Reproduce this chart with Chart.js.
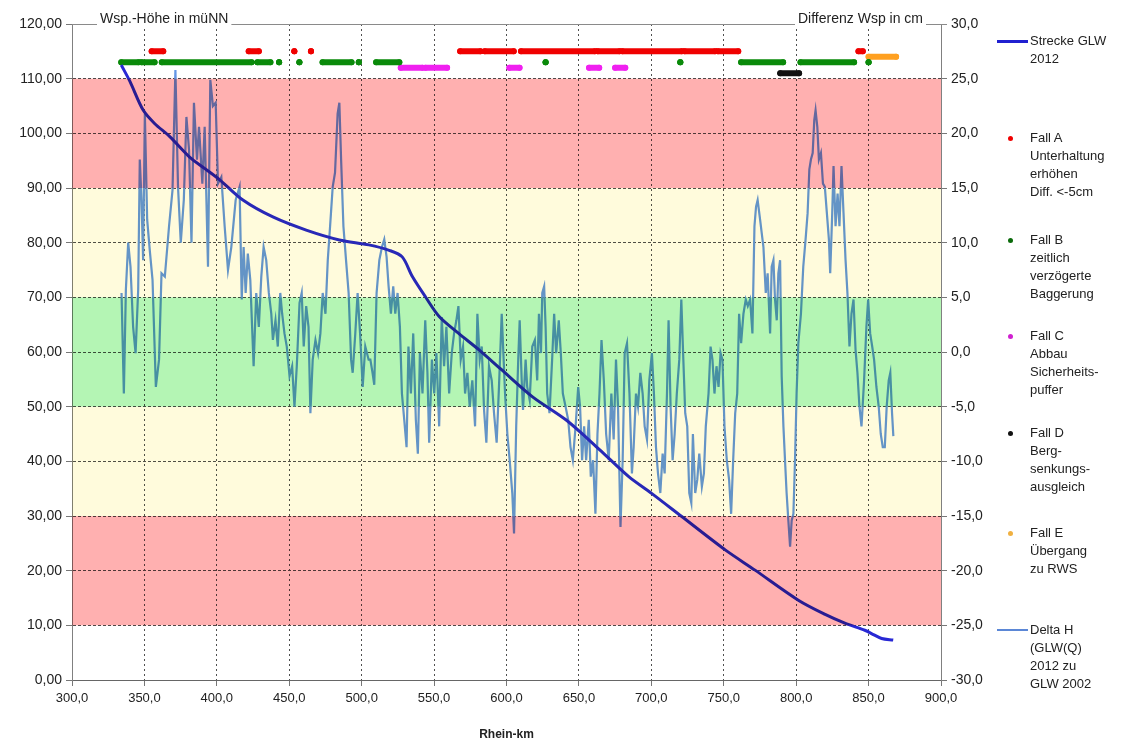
<!DOCTYPE html>
<html lang="de">
<head>
<meta charset="utf-8">
<title>Strecke GLW 2012 / Delta H</title>
<script src="https://cdn.jsdelivr.net/npm/chart.js@4.4.1/dist/chart.umd.min.js"></script>
<style>
  html, body { margin: 0; padding: 0; background: #fff; }
  #wrap { position: relative; width: 1126px; height: 742px; font-family: "Liberation Sans", Arial, sans-serif; color: #222; }
  #chart { position: absolute; left: 0; top: 0; }
  .leg { position: absolute; left: 1030px; font-size: 13px; line-height: 18px; white-space: nowrap; }
  .mk-line { position: absolute; left: 997px; width: 31px; }
  .mk-dot { position: absolute; left: 1008px; width: 5px; height: 5px; border-radius: 50%; }
</style>
</head>
<body>
<div id="wrap">
  <canvas id="chart" width="1126" height="742"></canvas>
  <div id="legend"></div>
</div>
<script>
// Strecke GLW 2012: Wasserspiegelhöhe in müNN (linke Achse)
const streckeKm  = [334, 340, 349, 357, 367.5, 381, 392, 402, 418, 438.7, 461.7, 484.6, 505, 519, 528, 535, 544, 553.5, 567, 581, 596, 618, 641, 664, 684.4, 700.4, 721, 751, 771.6, 801.5, 820, 833.6, 847.4, 852, 859, 867];
const streckeWsp = [112.5, 109.5, 104.3, 101.8, 99.4, 95.7, 93.5, 91.5, 87.8, 84.7, 82.3, 80.5, 79.6, 78.6, 77.4, 73.8, 70.1, 66.5, 63.4, 60.4, 56.9, 51.8, 47.6, 42.2, 37.2, 34.1, 29.9, 23.8, 20.1, 14.6, 12.0, 10.4, 9.1, 8.5, 7.6, 7.3];

// Delta H (GLW(Q) 2012 zu GLW 2002) in cm (rechte Achse)
const deltaKm = [
  334.2, 335.8, 337.2, 338.8, 340.4, 342.2, 343.9, 345.7, 346.8, 348.0, 349.1, 350.3, 351.9, 353.7, 355.6, 357.9, 360.1, 361.8, 364.1, 367.0,
  369.4, 371.4, 373.2, 375.1, 377.2, 379.0, 380.8, 382.5, 384.2, 386.3, 387.7, 390.0, 391.6, 393.9, 395.5, 397.3, 399.2, 400.8, 403.1, 405.4,
  407.7, 410.0, 413.0, 415.7, 417.2, 418.5, 419.9, 421.4, 423.1, 425.4, 427.2, 429.0, 430.7, 432.3, 434.1, 435.9, 437.6, 438.7, 440.5, 442.1,
  443.8, 445.1, 446.7, 448.3, 450.2, 452.0, 453.6, 455.2, 457.1, 458.6, 460.0, 461.7, 463.3, 464.6, 466.2, 468.1, 469.9, 471.5, 473.1, 475.0,
  476.6, 478.2, 480.0, 481.6, 483.4, 484.6, 485.8, 487.4, 489.2, 491.0, 492.7, 493.8, 495.6, 497.2, 498.9, 500.7, 502.5, 504.8, 506.0, 507.5,
  508.7, 510.3, 512.2, 514.0, 515.6, 517.2, 518.6, 520.2, 521.8, 523.2, 524.8, 526.4, 527.8, 529.4, 531.0, 532.3, 534.0, 535.6, 537.4, 538.8,
  540.2, 542.0, 543.9, 545.4, 546.6, 548.5, 550.1, 551.6, 553.5, 555.3, 556.9, 558.5, 560.4, 562.2, 563.8, 565.4, 566.8, 568.4, 570.0, 571.4,
  573.0, 574.6, 576.4, 578.3, 579.9, 581.5, 582.9, 584.5, 586.1, 587.9, 589.8, 591.4, 593.2, 594.8, 596.7, 599.0, 600.6, 602.2, 604.0, 605.2,
  606.7, 608.1, 609.1, 610.5, 611.4, 613.2, 614.3, 616.0, 617.8, 619.6, 621.2, 622.4, 623.8, 624.7, 626.0, 627.0, 628.1, 629.7, 631.5, 632.9,
  634.3, 636.1, 637.5, 638.9, 640.8, 642.6, 644.2, 645.8, 647.7, 649.5, 650.8, 652.2, 653.6, 655.0, 656.8, 658.2, 659.8, 661.4, 662.8, 664.2,
  665.6, 667.2, 668.8, 670.6, 672.4, 674.0, 675.6, 677.0, 678.7, 680.2, 681.6, 683.2, 684.9, 686.6, 687.8, 689.4, 690.8, 692.4, 694.0, 695.4,
  697.0, 698.6, 700.4, 701.8, 703.2, 704.6, 706.2, 707.8, 709.2, 710.8, 711.9, 713.3, 714.7, 716.1, 717.6, 719.3, 720.7, 722.1, 723.4, 724.8,
  726.2, 727.6, 728.7, 730.3, 731.7, 733.1, 734.9, 736.3, 737.6, 739.5, 740.9, 742.2, 743.6, 745.0, 746.4, 747.8, 749.1, 750.5, 752.1, 753.7,
  755.1, 756.5, 757.9, 759.3, 760.6, 762.0, 763.6, 765.2, 766.6, 768.2, 769.8, 771.2, 772.3, 773.4, 775.1, 776.2, 777.4, 779.0, 780.3, 782.0,
  783.1, 784.3, 785.4, 786.6, 787.7, 788.9, 790.0, 791.2, 792.3, 793.4, 794.6, 795.8, 796.9, 798.1, 799.2, 800.3, 801.5, 803.3, 804.9, 806.5,
  807.9, 809.1, 810.2, 811.4, 812.5, 813.4, 814.6, 815.7, 817.1, 818.5, 819.8, 821.2, 822.6, 823.5, 824.9, 825.8, 827.2, 828.6, 829.9, 831.3,
  832.7, 834.1, 835.4, 836.8, 838.2, 839.6, 841.0, 842.3, 843.7, 845.1, 846.9, 848.5, 849.7, 851.1, 852.5, 853.8, 855.4, 857.0, 858.4, 859.8,
  861.2, 862.5, 863.9, 865.0, 866.2, 867.1
];
const deltaCm = [
  5.4, -3.8, 5.7, 10.0, 7.8, 2.3, -0.1, 5.7, 17.6, 13.9, 8.4, 21.8, 12.1, 9.3, 6.6, -3.2, -0.7, 7.2, 6.9, 11.5,
  14.8, 25.8, 15.1, 10.0, 13.9, 21.5, 18.5, 10.0, 22.8, 17.6, 20.6, 15.4, 20.6, 7.8, 24.9, 22.5, 22.8, 15.4, 16.0, 11.5,
  7.5, 9.6, 13.9, 15.1, 4.8, 9.6, 5.4, 9.0, 6.6, -1.3, 5.4, 2.3, 6.9, 9.6, 8.4, 5.4, 3.5, 1.1, 2.9, 0.5,
  5.4, 3.5, 1.7, 0.5, -2.2, -1.3, -5.0, -1.3, 4.5, 5.4, 0.5, 4.2, 2.3, -5.6, -0.7, 1.1, -0.1, 1.7, 5.4, 3.5,
  8.4, 11.5, 15.1, 16.4, 21.8, 22.8, 17.6, 11.5, 8.4, 5.4, -0.7, -1.9, 1.7, 5.4, 1.7, -3.2, 0.5, -0.7, -0.7, -1.9,
  -3.0, 5.4, 8.4, 9.6, 10.3, 8.7, 6.0, 3.5, 6.0, 3.5, 5.4, 2.3, -3.8, -6.2, -8.7, 0.5, -3.8, 1.7, -6.2, -9.3,
  -0.1, -3.8, 2.9, -1.9, -8.3, -0.7, -3.8, -0.1, -6.8, 3.2, -1.3, 2.3, -3.8, -0.1, 1.7, 2.9, 4.2, -0.7, 0.5, -3.8,
  -1.9, -5.0, -2.6, -6.8, 3.5, -0.7, 0.5, -5.3, -8.3, -1.3, -2.6, -5.6, -8.3, -3.2, 3.5, -3.8, -7.5, -9.9, -12.9, -16.6,
  -6.8, -0.7, 2.9, -2.6, -5.3, -0.7, -3.2, -4.4, 0.5, 1.1, -2.6, 3.5, -0.1, 5.4, 6.0, 2.3, -3.8, -5.6, -0.7, 3.5,
  -0.1, 2.9, -0.1, -3.8, -5.0, -6.2, -8.7, -9.9, -6.8, -3.2, -5.0, -9.9, -6.8, -9.9, -6.2, -11.4, -9.9, -14.8, -7.5, -3.8,
  1.1, -2.6, -7.5, -9.9, -3.8, -8.0, -0.7, -5.0, -16.0, -9.9, -0.1, 0.8, -3.8, -11.1, -8.7, -3.8, -5.0, -1.9, -3.8, -6.8,
  -8.0, -2.6, -0.1, -3.8, -8.7, -11.1, -12.9, -9.3, -11.1, -3.8, 2.9, -5.0, -9.9, -7.5, -3.8, -0.7, 4.8, -0.7, -5.6, -6.8,
  -12.9, -13.8, -7.5, -12.9, -11.7, -9.3, -12.3, -11.1, -6.8, -3.8, 0.5, -0.7, -3.8, -1.3, -3.2, -0.1, -0.7, -6.8, -9.9, -11.7,
  -14.8, -9.9, -5.6, -3.8, 3.5, 0.8, 3.5, 4.8, 4.2, 4.8, 1.7, 11.5, 13.3, 13.9, 12.1, 10.9, 9.6, 5.4, 7.2, 1.7,
  7.8, 8.4, 4.8, 2.9, 7.2, 8.4, -2.2, -6.8, -9.9, -12.9, -15.4, -17.8, -15.4, -14.8, -9.9, -3.8, 0.8, 3.5, 7.8, 10.3,
  12.7, 16.7, 17.6, 18.2, 21.2, 22.1, 20.6, 17.6, 18.2, 15.4, 15.1, 12.7, 10.3, 7.2, 12.7, 17.0, 11.5, 14.5, 11.5, 17.0,
  12.7, 8.4, 5.4, 0.5, 3.5, 4.8, 0.2, -1.9, -5.0, -6.8, -2.6, 2.3, 4.8, 1.7, 0.5, -0.7, -3.2, -5.0, -7.5, -8.7,
  -8.7, -5.0, -2.6, -1.9, -5.6, -7.7
];

// Fälle A–E: Abschnitte [von km, bis km]
const fallA = [[355, 363], [422, 429], [453.5, 453.5], [465, 465], [568, 582], [585, 605], [610, 661], [663, 678], [680, 721], [723, 744], [746, 760], [843, 846]];
const fallB = [[334, 346], [348, 357], [362, 424], [428, 437], [443, 443], [457, 457], [473, 493], [498, 498], [510, 526], [627, 627], [720, 720], [762, 791], [803, 840], [850, 850]];
const fallC = [[527, 542], [544, 559], [602, 609], [657, 664], [675, 682]];
const fallD = [[789, 802]];
const fallE = [[850, 869]];
// Höhe der Fall-Markierungen auf der linken Achse (A, B, C, D, E)
const fallLevels = [115, 113, 112, 111, 114];

// Bewertungsbereiche der Differenz in cm (von unten nach oben)
const bandEdgesCm = [-25, -15, -5, 5, 15, 25];
const bandColors = ['#ffb0b0', '#fffbdc', '#b4f5b4', '#fffbdc', '#ffb0b0'];

const FONT = '"Liberation Sans", Arial, sans-serif';
const fmt = (v, d) => v.toFixed(d).replace('.', ',');

const toPoints = (xs, ys) => xs.map((x, i) => ({ x, y: ys[i] }));
const segPoints = (segs, level) => segs.flatMap(([a, b]) => [{ x: a, y: level }, { x: b, y: level }, { x: b, y: null }]);

const fallDs = (label, segs, level, color) => ({
  label, data: segPoints(segs, level), yAxisID: 'y',
  borderColor: color, backgroundColor: color, borderWidth: 6, borderCapStyle: 'round',
  pointRadius: 3, pointBorderWidth: 0, pointBackgroundColor: color, spanGaps: false, order: 0
});

// Farbbereiche multiplikativ über die Linien legen
const bandPlugin = {
  id: 'bands',
  afterDatasetsDraw(chart) {
    const { ctx, chartArea: a, scales: { y2 } } = chart;
    ctx.save();
    ctx.globalCompositeOperation = 'multiply';
    for (let i = 0; i < bandEdgesCm.length - 1; i++) {
      const top = y2.getPixelForValue(bandEdgesCm[i + 1]);
      const bot = y2.getPixelForValue(bandEdgesCm[i]);
      ctx.fillStyle = bandColors[i];
      ctx.fillRect(a.left, top, a.right - a.left, bot - top);
    }
    ctx.restore();
  }
};

// obere Rahmenlinie und Achsentitel
const framePlugin = {
  id: 'frame',
  afterDraw(chart) {
    const { ctx, chartArea: a } = chart;
    ctx.save();
    ctx.strokeStyle = '#8a8a8a';
    ctx.lineWidth = 1;
    ctx.beginPath();
    ctx.moveTo(a.left, a.top + 0.5);
    ctx.lineTo(a.right + 6, a.top + 0.5);
    ctx.stroke();

    ctx.font = '14px ' + FONT;
    ctx.textBaseline = 'middle';
    const left = 'Wsp.-Höhe in müNN';
    const lw = ctx.measureText(left).width;
    ctx.fillStyle = '#fff';
    ctx.fillRect(97, 12, lw + 6, 15);
    ctx.fillStyle = '#222';
    ctx.textAlign = 'left';
    ctx.fillText(left, 100, 19);

    const right = 'Differenz Wsp in cm';
    const rw = ctx.measureText(right).width;
    ctx.fillStyle = '#fff';
    ctx.fillRect(923 - rw - 3, 12, rw + 6, 15);
    ctx.fillStyle = '#222';
    ctx.textAlign = 'right';
    ctx.fillText(right, 923, 19);
    ctx.restore();
  }
};

new Chart(document.getElementById('chart'), {
  type: 'line',
  data: {
    datasets: [
      {
        label: 'Strecke GLW 2012', data: toPoints(streckeKm, streckeWsp), yAxisID: 'y',
        borderColor: '#2828d4', borderWidth: 3, pointRadius: 0, tension: 0.3, order: 0
      },
      fallDs('Fall A', fallA, fallLevels[0], '#f00000'),
      fallDs('Fall B', fallB, fallLevels[1], '#0a8a0a'),
      fallDs('Fall C', fallC, fallLevels[2], '#f020f0'),
      fallDs('Fall D', fallD, fallLevels[3], '#111111'),
      fallDs('Fall E', fallE, fallLevels[4], '#ffa020'),
      {
        label: 'Delta H', data: toPoints(deltaKm, deltaCm), yAxisID: 'y2',
        borderColor: '#6496e6', borderWidth: 2.2, pointRadius: 0, order: 2
      }
    ]
  },
  options: {
    responsive: false,
    animation: false,
    layout: { padding: { top: 24, right: 135, bottom: 0, left: 0 } },
    plugins: { legend: { display: false }, tooltip: { enabled: false } },
    scales: {
      x: {
        type: 'linear', min: 300, max: 900,
        afterFit: s => { s.height = 62; },
        ticks: { stepSize: 50, autoSkip: false, maxRotation: 0, padding: 5, color: '#222', font: { family: FONT, size: 13 }, callback: v => fmt(v, 1) },
        grid: { color: c => (c.tick && (c.tick.value === 300 || c.tick.value === 900)) ? 'rgba(0,0,0,0)' : '#505050', tickColor: '#777', tickLength: 6 },
        border: { color: '#666', width: 1, dash: [2, 3] },
        title: { display: true, text: 'Rhein-km', color: '#222', font: { family: FONT, size: 12, weight: 'bold' }, padding: { top: 8, bottom: 0 } }
      },
      y: {
        position: 'left', min: 0, max: 120,
        afterFit: s => { s.width = 72; },
        ticks: { stepSize: 10, autoSkip: false, padding: 4, color: '#222', font: { family: FONT, size: 14 }, callback: v => fmt(v, 2) },
        grid: { color: c => (c.tick && (c.tick.value === 0 || c.tick.value === 120)) ? 'rgba(0,0,0,0)' : '#505050', tickColor: '#777', tickLength: 6 },
        border: { color: '#808080', width: 1, dash: [3, 2] }
      },
      y2: {
        position: 'right', min: -30, max: 30,
        afterFit: s => { s.width = 50; },
        ticks: { stepSize: 5, autoSkip: false, padding: 4, color: '#222', font: { family: FONT, size: 14 }, callback: v => fmt(v, 1) },
        grid: { drawOnChartArea: false, tickColor: '#777', tickLength: 6 },
        border: { color: '#808080', width: 1 }
      }
    }
  },
  plugins: [bandPlugin, framePlugin]
});

// Legende rechts neben dem Diagramm
const legendEntries = [
  { kind: 'line', color: '#2020d0', width: 3, y: 41, lines: ['Strecke GLW', '2012'] },
  { kind: 'dot', color: '#f00000', y: 138, lines: ['Fall A', 'Unterhaltung', 'erhöhen', 'Diff. <-5cm'] },
  { kind: 'dot', color: '#0a6a0a', y: 240, lines: ['Fall B', 'zeitlich', 'verzögerte', 'Baggerung'] },
  { kind: 'dot', color: '#d020d0', y: 336, lines: ['Fall C', 'Abbau', 'Sicherheits-', 'puffer'] },
  { kind: 'dot', color: '#111111', y: 433, lines: ['Fall D', 'Berg-', 'senkungs-', 'ausgleich'] },
  { kind: 'dot', color: '#f0b040', y: 533, lines: ['Fall E', 'Übergang', 'zu RWS'] },
  { kind: 'line', color: '#5b87d6', width: 2, y: 630, lines: ['Delta H', '(GLW(Q)', '2012 zu', 'GLW 2002'] }
];
const legendBox = document.getElementById('legend');
legendEntries.forEach(e => {
  const mk = document.createElement('div');
  if (e.kind === 'line') {
    mk.className = 'mk-line';
    mk.style.top = (e.y - e.width / 2) + 'px';
    mk.style.height = e.width + 'px';
  } else {
    mk.className = 'mk-dot';
    mk.style.top = (e.y - 2.5) + 'px';
  }
  mk.style.background = e.color;
  legendBox.appendChild(mk);
  const txt = document.createElement('div');
  txt.className = 'leg';
  txt.style.top = (e.y - 9) + 'px';
  txt.innerHTML = e.lines.map(l => l.replace(/&/g, '&amp;').replace(/</g, '&lt;')).join('<br>');
  legendBox.appendChild(txt);
});
</script>
</body>
</html>
